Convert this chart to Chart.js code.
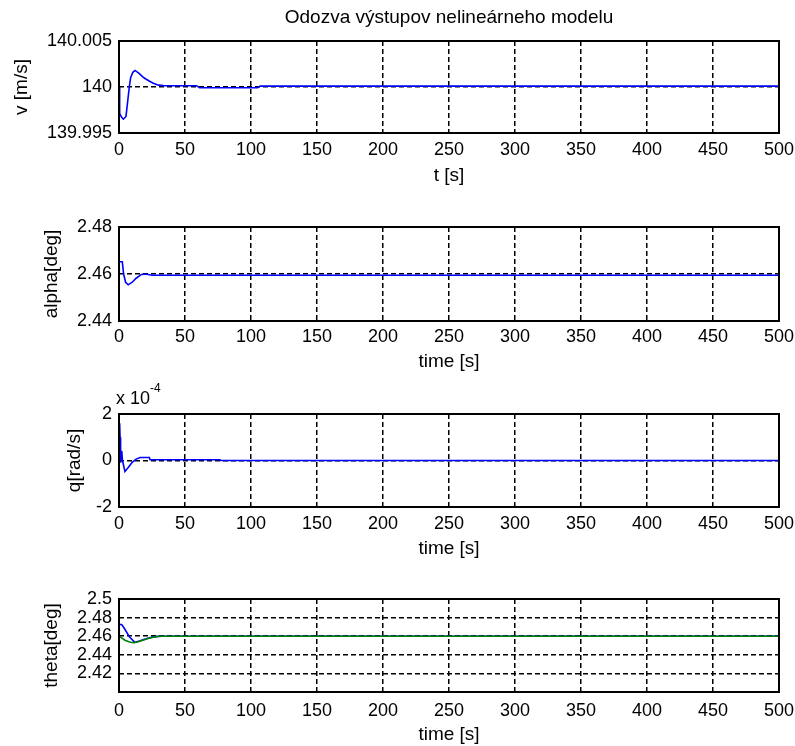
<!DOCTYPE html>
<html>
<head>
<meta charset="utf-8">
<script src="https://cdn.jsdelivr.net/npm/chart.js@4.4.1/dist/chart.umd.min.js"></script>
<style>
    body { margin: 0; background: #fff; }
    #wrap { position: relative; width: 795px; height: 746px; overflow: hidden; }
    #wrap canvas { position: absolute; left: 0; top: 0; }
    #exp { position: absolute; left: 116px; top: 390px; font: 18px 'Liberation Sans', Arial, sans-serif; line-height: 17px; color: #000; white-space: nowrap; }
    #exp span { font-size: 12px; position: relative; top: -12px; }
</style>
</head>
<body>
<div id="wrap">
    <canvas id="c1" width="795" height="746"></canvas>
    <canvas id="c2" width="795" height="746"></canvas>
    <canvas id="c3" width="795" height="746"></canvas>
    <canvas id="c4" width="795" height="746"></canvas>
    <div id="exp">x 10<span>-4</span></div>
</div>
<script>
// ---- data ----
const xTicks = [0, 50, 100, 150, 200, 250, 300, 350, 400, 450, 500];

// v [m/s]
const tV = [0, 0.5, 2, 3.3, 5.3, 7.8, 8.8, 10.5, 12.1, 15, 18, 20, 23.5, 26, 30, 33.6, 45, 58.8, 61, 105, 107, 500];
const vData = [140.0, 139.9971, 139.9967, 139.9965, 139.9968, 140.0, 140.0010, 140.0016, 140.0018, 140.0015, 140.0011,
    140.0009, 140.0006, 140.0004, 140.0002, 140.00015, 140.00014, 140.00014, 139.99992, 139.99992, 140.0001, 140.0001];
const vTicks = [139.995, 140, 140.005];
const vTickLabels = ['139.995', '140', '140.005'];

// alpha [deg]
const tAlpha = [0, 0.2, 2.5, 3.5, 5, 7, 10, 13, 17, 20, 25, 500];
const alphaData = [2.46, 2.4652, 2.4652, 2.4600, 2.4565, 2.4554, 2.4565, 2.4582, 2.4598, 2.4600, 2.4595, 2.4595];
const alphaTicks = [2.44, 2.46, 2.48];
const alphaTickLabels = ['2.44', '2.46', '2.48'];

// q [rad/s], in units of 1e-4
const tQ = [0, 0.5, 0.8, 1.2, 1.6, 2.2, 2.6, 4.5, 7, 10, 13, 15.9, 23, 23.5, 76.5, 77, 500];
const qData = [1.58, 1.6, 1.0, -0.1, 0.4, 0.35, 0.0, -0.47, -0.3, -0.08, 0.06, 0.13, 0.13, 0.03, 0.03, 0, 0];
const qTicks = [-2, 0, 2];
const qTickLabels = ['-2', '0', '2'];

// theta [deg]
const tTheta = [0, 0.2, 2, 4, 8, 12, 16, 20, 25, 30, 32, 500];
const thetaData = [2.46, 2.4726, 2.4726, 2.4685, 2.459, 2.4533, 2.455, 2.457, 2.459, 2.4598, 2.46, 2.46];
const tThetaRef = [0, 2, 4.5, 8, 11, 14, 18, 22, 26, 30, 35, 500];
const thetaRef = [2.46, 2.4582, 2.4557, 2.4537, 2.453, 2.4538, 2.4557, 2.4575, 2.459, 2.4599, 2.46, 2.46];
const thetaTicks = [2.4, 2.42, 2.44, 2.46, 2.48, 2.5];
const thetaTickLabels = ['', '2.42', '2.44', '2.46', '2.48', '2.5'];

const FONT = "'Liberation Sans', Arial, sans-serif";
const W = 795, H = 746;
const PLOT_LEFT = 119, PLOT_RIGHT = 779;

function pts(xs, ys) {
    return xs.map((x, i) => ({ x: x, y: ys[i] }));
}

// black frame round the plot area
const boxPlugin = {
    id: 'box',
    afterDraw(chart) {
        const a = chart.chartArea;
        const ctx = chart.ctx;
        ctx.save();
        ctx.strokeStyle = '#000';
        ctx.lineWidth = 2;
        ctx.strokeRect(a.left, a.top, a.right - a.left, a.bottom - a.top);
        ctx.restore();
    }
};

function makePanel(id, p) {
    const xH = Math.min(p.xTitleY - p.plotBottom + 11.4, H - p.plotBottom);
    const padBottom = Math.max(0, H - p.plotBottom - xH);

    return new Chart(document.getElementById(id), {
        type: 'line',
        data: {
            datasets: p.series.map(s => ({
                data: s.data,
                borderColor: s.color,
                borderWidth: 1.6,
                pointRadius: 0,
                tension: 0,
                fill: false
            }))
        },
        options: {
            responsive: false,
            animation: false,
            devicePixelRatio: 1,
            events: [],
            layout: {
                padding: { top: p.title ? 0 : p.plotTop, left: 0, right: W - PLOT_RIGHT, bottom: padBottom }
            },
            scales: {
                x: {
                    type: 'linear',
                    min: 0,
                    max: 500,
                    afterBuildTicks: (s) => { s.ticks = xTicks.map(v => ({ value: v })); },
                    afterFit: (s) => { s.height = xH; s.paddingLeft = 0; s.paddingRight = 0; },
                    ticks: {
                        maxRotation: 0,
                        autoSkip: false,
                        padding: p.xTickPad,
                        color: '#000',
                        font: { family: FONT, size: 18 },
                        callback: (v) => String(v)
                    },
                    grid: { color: '#000', lineWidth: 1.5, drawTicks: false },
                    border: { display: false, dash: [5, 3] },
                    title: {
                        display: true,
                        text: p.xTitle,
                        color: '#000',
                        font: { family: FONT, size: 19 },
                        padding: { top: 0, bottom: 0 }
                    }
                },
                y: {
                    type: 'linear',
                    min: p.yTicks[0],
                    max: p.yTicks[p.yTicks.length - 1],
                    afterBuildTicks: (s) => { s.ticks = p.yTicks.map(v => ({ value: v })); },
                    afterFit: (s) => { s.width = PLOT_LEFT; s.paddingTop = 0; s.paddingBottom = 0; },
                    ticks: {
                        autoSkip: false,
                        padding: 7,
                        color: '#000',
                        font: { family: FONT, size: 18 },
                        callback: (v, i) => p.yTickLabels[i]
                    },
                    grid: { color: '#000', lineWidth: 1.5, drawTicks: false },
                    border: { display: false, dash: [5, 3] },
                    title: {
                        display: true,
                        text: p.yTitle,
                        color: '#000',
                        font: { family: FONT, size: 19 },
                        padding: { top: p.yTitleX - 11.4, bottom: 0 }
                    }
                }
            },
            plugins: {
                legend: { display: false },
                tooltip: { enabled: false },
                title: p.title ? {
                    display: true,
                    text: p.title,
                    fullSize: false,
                    color: '#000',
                    font: { family: FONT, size: 19, weight: 'normal' },
                    padding: { top: 6, bottom: p.plotTop - 6 - 22.8 }
                } : { display: false }
            }
        },
        plugins: [boxPlugin]
    });
}

makePanel('c1', {
    title: 'Odozva výstupov nelineárneho modelu',
    plotTop: 41, plotBottom: 133, xTitleY: 176, xTickPad: 6, yTitleX: 22,
    xTitle: 't [s]', yTitle: 'v [m/s]',
    yTicks: vTicks, yTickLabels: vTickLabels,
    series: [{ data: pts(tV, vData), color: '#0000ff' }]
});

makePanel('c2', {
    plotTop: 227, plotBottom: 321, xTitleY: 362, xTickPad: 5.5, yTitleX: 52,
    xTitle: 'time [s]', yTitle: 'alpha[deg]',
    yTicks: alphaTicks, yTickLabels: alphaTickLabels,
    series: [{ data: pts(tAlpha, alphaData), color: '#0000ff' }]
});

makePanel('c3', {
    plotTop: 414, plotBottom: 507, xTitleY: 549, xTickPad: 6, yTitleX: 75,
    xTitle: 'time [s]', yTitle: 'q[rad/s]',
    yTicks: qTicks, yTickLabels: qTickLabels,
    series: [{ data: pts(tQ, qData), color: '#0000ff' }]
});

// green reference first so it is drawn on top of the blue line
makePanel('c4', {
    plotTop: 599, plotBottom: 692, xTitleY: 735, xTickPad: 8, yTitleX: 52,
    xTitle: 'time [s]', yTitle: 'theta[deg]',
    yTicks: thetaTicks, yTickLabels: thetaTickLabels,
    series: [
        { data: pts(tThetaRef, thetaRef), color: '#008000' },
        { data: pts(tTheta, thetaData), color: '#0000ff' }
    ]
});
</script>
</body>
</html>
